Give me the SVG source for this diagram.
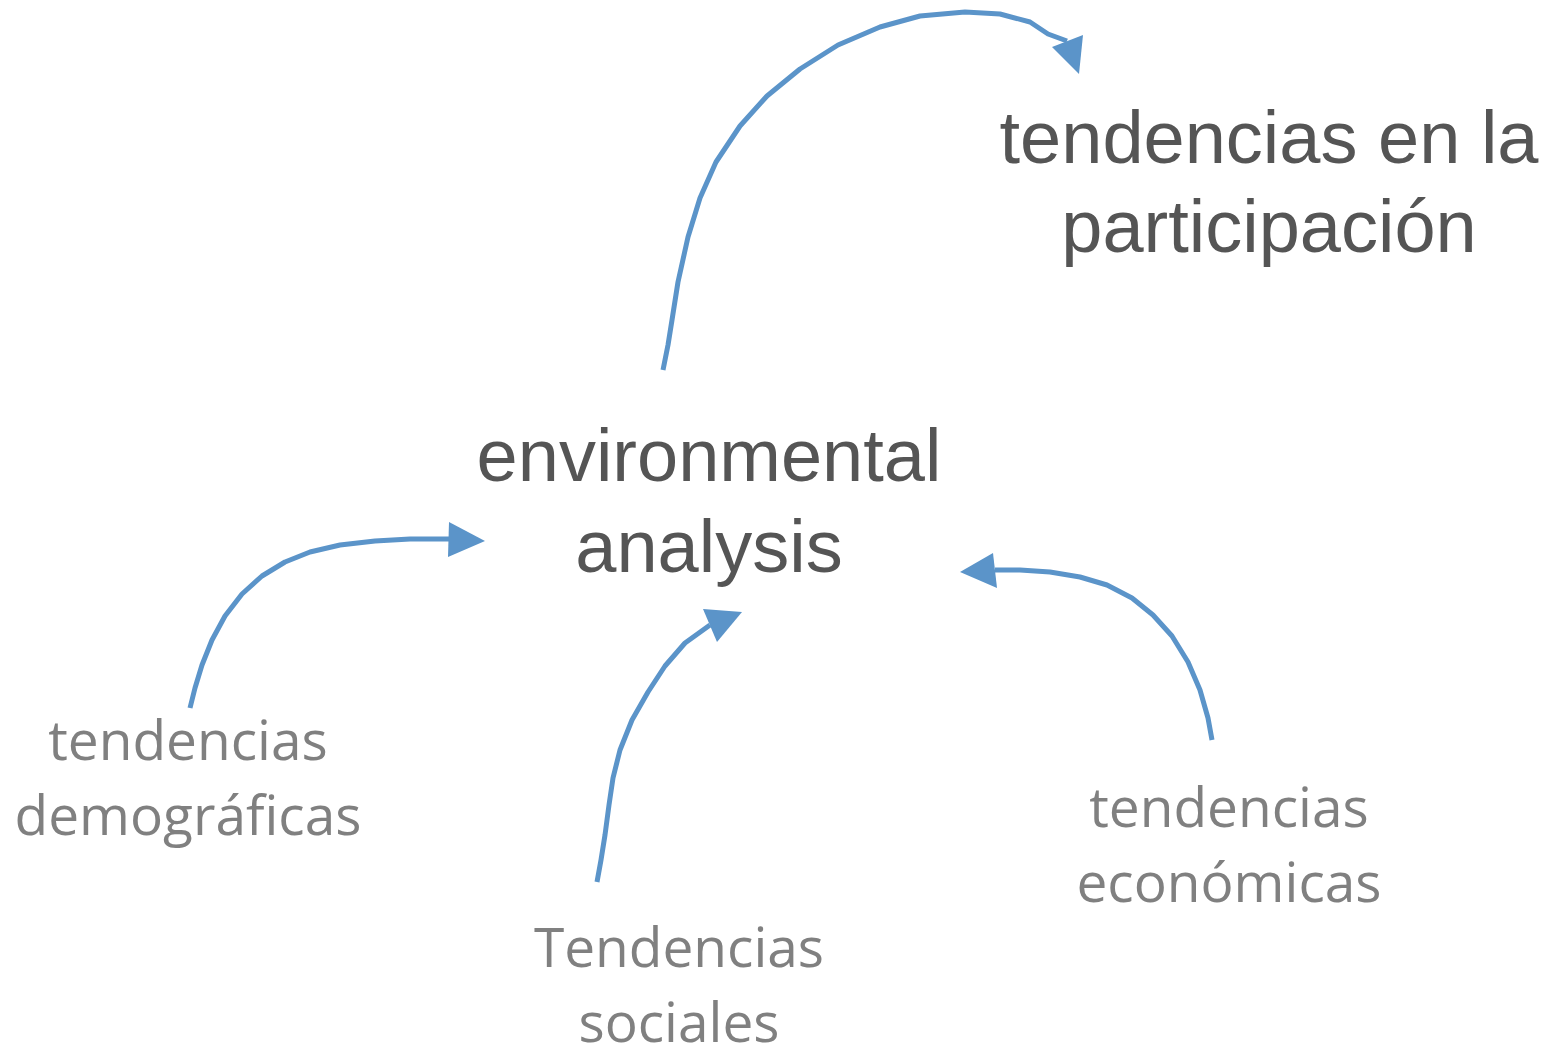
<svg xmlns="http://www.w3.org/2000/svg" width="1555" height="1051" viewBox="0 0 1555 1051">
<style>
.main{font-family:"Liberation Sans",Arial,sans-serif;font-size:74px;fill:#555555;text-anchor:middle}
.sub{font-family:"Open Sans","Noto Sans",sans-serif;font-size:55px;fill:#808080;text-anchor:middle}
.conn{fill:none;stroke:#5b94c9;stroke-width:5;stroke-linejoin:round}
.head{fill:#5b94c9}
</style>
<rect width="1555" height="1051" fill="#ffffff"/>
<g id="node-participacion">
<text class="main" x="1269" y="163">tendencias en la</text>
<text class="main" x="1269" y="252">participación</text>
</g>
<g id="node-environmental">
<text class="main" x="709" y="481">environmental</text>
<text class="main" x="709" y="572">analysis</text>
</g>
<g id="node-demograficas">
<text class="sub" x="188" y="760">tendencias</text>
<text class="sub" x="188" y="835">demográficas</text>
</g>
<g id="node-sociales">
<text class="sub" x="679" y="967">Tendencias</text>
<text class="sub" x="679" y="1042">sociales</text>
</g>
<g id="node-economicas">
<text class="sub" x="1229" y="827">tendencias</text>
<text class="sub" x="1229" y="902">económicas</text>
</g>
<g id="connectors">
<path class="conn" d="M663,370 L668,345 L672,320 L678,282 L688,237 L700,198 L716,162 L740,126 L767,96 L800,69 L838,45 L880,27 L920,16 L965,12 L1000,14 L1030,22 L1048,34 L1067,41"/>
<polygon class="head" points="1052,47 1083,35 1079,74"/>
<path class="conn" d="M190,708 L195,688 L202,665 L212,640 L225,616 L242,594 L262,576 L285,562 L310,552 L340,545 L375,541 L410,539 L450,539"/>
<polygon class="head" points="449,522 485,541 448,557"/>
<path class="conn" d="M597,882 L601,860 L605,835 L609,805 L613,778 L620,750 L632,720 L648,692 L665,666 L685,643 L710,625"/>
<polygon class="head" points="703,609 742,612 717,642"/>
<path class="conn" d="M1212,740 L1208,718 L1200,690 L1188,662 L1172,636 L1153,615 L1132,598 L1107,585 L1080,577 L1050,572 L1020,570 L995,570"/>
<polygon class="head" points="993,553 960,572 997,588"/>
</g>
</svg>
